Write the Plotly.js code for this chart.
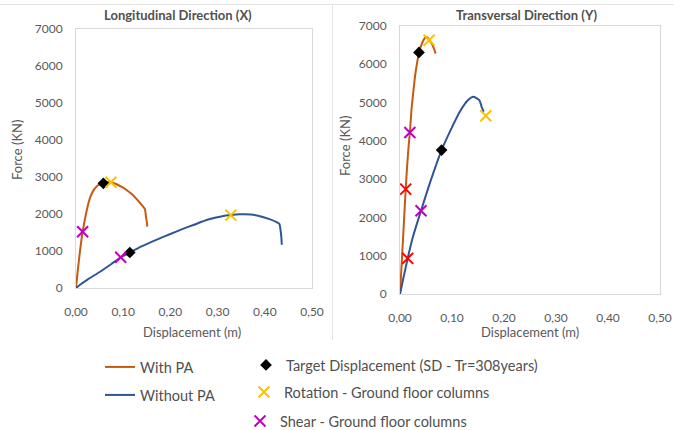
<!DOCTYPE html>
<html>
<head>
<meta charset="utf-8">
<script src="https://cdn.plot.ly/plotly-3.0.1.min.js"></script>
<style>html,body{margin:0;padding:0;background:#fff;}#chart{width:674px;height:430px;}</style>
</head>
<body>
<div id="chart"></div>
<script>
// ---------- Data ----------
// Longitudinal Direction (X)
const longWithPA_x = [0, 0.004, 0.008, 0.012, 0.014, 0.018, 0.024, 0.030, 0.038, 0.046, 0.052, 0.058, 0.065, 0.074, 0.085, 0.097, 0.107, 0.118, 0.130, 0.140, 0.146, 0.148, 0.150, 0.151];
const longWithPA_y = [0, 500, 950, 1350, 1520, 1800, 2170, 2450, 2660, 2770, 2810, 2835, 2860, 2860, 2810, 2730, 2650, 2540, 2380, 2230, 2130, 1950, 1780, 1660];
const longWithoutPA_x = [0, 0.010, 0.025, 0.051, 0.075, 0.095, 0.114, 0.140, 0.170, 0.200, 0.225, 0.250, 0.280, 0.310, 0.328, 0.347, 0.370, 0.390, 0.410, 0.425, 0.431, 0.433, 0.435, 0.436];
const longWithoutPA_y = [0, 100, 235, 440, 650, 830, 960, 1130, 1300, 1460, 1590, 1710, 1850, 1940, 1970, 1990, 1985, 1940, 1860, 1780, 1730, 1600, 1380, 1170];
const longTarget_x = [0.058, 0.114];
const longTarget_y = [2830, 960];
const longRotation_x = [0.074, 0.328];
const longRotation_y = [2860, 1970];
const longShear_x = [0.014, 0.0947];
const longShear_y = [1520, 830];

// Transversal Direction (Y)
const transWithPA_x = [0, 0.0035, 0.0064, 0.009, 0.011, 0.0135, 0.0165, 0.019, 0.022, 0.0256, 0.029, 0.033, 0.0365, 0.041, 0.045, 0.049, 0.053, 0.056, 0.061, 0.065, 0.0686];
const transWithPA_y = [0, 850, 1585, 2250, 2740, 3300, 3850, 4220, 4800, 5280, 5700, 6050, 6310, 6500, 6630, 6700, 6700, 6640, 6545, 6420, 6280];
const transWithoutPA_x = [0, 0.005, 0.0148, 0.025, 0.0404, 0.060, 0.080, 0.096, 0.115, 0.131, 0.141, 0.1525, 0.157, 0.161];
const transWithoutPA_y = [0, 320, 930, 1500, 2175, 3000, 3760, 4240, 4760, 5065, 5150, 5065, 4890, 4760];
const transTarget_x = [0.0365, 0.080];
const transTarget_y = [6310, 3760];
const transRotation_x = [0.056, 0.165];
const transRotation_y = [6630, 4655];
const transShear_x = [0.019, 0.0404];
const transShear_y = [4220, 2175];
const transOther_x = [0.011, 0.0148];
const transOther_y = [2740, 930];

// Labels
const titleLong = 'Longitudinal Direction (X)';
const titleTrans = 'Transversal Direction (Y)';
const xTitle = 'Displacement (m)';
const yTitle = 'Force (KN)';
const nameWith = 'With PA';
const nameWithout = 'Without PA';
const nameTarget = 'Target Displacement (SD - Tr=308years)';
const nameRotation = 'Rotation - Ground floor columns';
const nameShear = 'Shear - Ground floor columns';

// ---------- Styles ----------
const ORANGE = '#C55A11', BLUE = '#2F5597', BLACK = '#000000', GOLD = '#FFC000', MAGENTA = '#C000C0', RED = '#FF0000';
const FONT = 'Lato, "Open Sans", sans-serif';
const TXT = '#595959';

function lineTrace(x, y, color, name, xa, ya, show, leg) {
  return {x, y, type: 'scatter', mode: 'lines', name, xaxis: xa, yaxis: ya,
    line: {color, width: 2, shape: 'spline', smoothing: 0.6},
    showlegend: show, legend: leg, legendgroup: name, hoverinfo: 'skip'};
}
function markerTrace(x, y, kind, color, name, xa, ya, show, leg) {
  const m = kind === 'diamond'
    ? {symbol: 'diamond', size: 9, color}
    : {symbol: 'x-thin', size: 11, color, line: {color, width: 2}};
  return {x, y, type: 'scatter', mode: 'markers', name, xaxis: xa, yaxis: ya,
    marker: m, showlegend: show, legend: leg, legendgroup: name, hoverinfo: 'skip'};
}

const data = [
  lineTrace(longWithPA_x, longWithPA_y, ORANGE, nameWith, 'x', 'y', true, 'legend'),
  lineTrace(longWithoutPA_x, longWithoutPA_y, BLUE, nameWithout, 'x', 'y', true, 'legend2'),
  lineTrace(transWithPA_x, transWithPA_y, ORANGE, nameWith, 'x2', 'y2', false, 'legend'),
  lineTrace(transWithoutPA_x, transWithoutPA_y, BLUE, nameWithout, 'x2', 'y2', false, 'legend2'),
  markerTrace(longTarget_x, longTarget_y, 'diamond', BLACK, nameTarget, 'x', 'y', true, 'legend3'),
  markerTrace(longRotation_x, longRotation_y, 'x', GOLD, nameRotation, 'x', 'y', true, 'legend4'),
  markerTrace(longShear_x, longShear_y, 'x', MAGENTA, nameShear, 'x', 'y', true, 'legend5'),
  markerTrace(transTarget_x, transTarget_y, 'diamond', BLACK, nameTarget, 'x2', 'y2', false, 'legend3'),
  markerTrace(transRotation_x, transRotation_y, 'x', GOLD, nameRotation, 'x2', 'y2', false, 'legend4'),
  markerTrace(transShear_x, transShear_y, 'x', MAGENTA, nameShear, 'x2', 'y2', false, 'legend5'),
  markerTrace(transOther_x, transOther_y, 'x', RED, 'Other', 'x2', 'y2', false, 'legend5')
];

const W = 674, H = 430;
const px = v => v / W, py = v => 1 - v / H;

function xAxis(domain, anchor) {
  return {domain, anchor, range: [0, 0.5], dtick: 0.1, tick0: 0, tickformat: '.2f',
    showgrid: false, zeroline: false, showline: true, mirror: true, linecolor: '#d9d9d9', linewidth: 1,
    ticks: '', ticklabelstandoff: 13, tickfont: {family: FONT, size: 12, color: TXT}, fixedrange: true};
}
function yAxis(domain, anchor) {
  return {domain, anchor, range: [0, 7000], dtick: 1000, tick0: 0,
    showgrid: false, zeroline: false, showline: true, mirror: true, linecolor: '#d9d9d9', linewidth: 1,
    ticks: '', ticklabelstandoff: 10, tickfont: {family: FONT, size: 12, color: TXT}, fixedrange: true};
}
function legendAt(xLeft, yCenter) {
  return {x: px(xLeft), y: py(yCenter), xanchor: 'left', yanchor: 'middle', orientation: 'v',
    bgcolor: 'rgba(0,0,0,0)', borderwidth: 0, itemwidth: 30,
    font: {family: FONT, size: 14.5, color: '#505050'}};
}
function ann(text, x, y, opts) {
  return Object.assign({text, x: px(x), y: py(y), xref: 'paper', yref: 'paper', showarrow: false,
    xanchor: 'center', yanchor: 'middle', font: {family: FONT, size: 13, color: TXT}}, opts || {});
}

const layout = {
  width: W, height: H, autosize: false,
  margin: {l: 0, r: 0, t: 0, b: 0, pad: 0, autoexpand: false},
  paper_bgcolor: '#ffffff', plot_bgcolor: '#ffffff',
  separators: ',.',
  font: {family: FONT, color: TXT},
  xaxis: xAxis([px(76), px(312)], 'y'),
  yaxis: yAxis([py(288), py(29)], 'x'),
  xaxis2: xAxis([px(400), px(660)], 'y2'),
  yaxis2: yAxis([py(294), py(26)], 'x2'),
  legend: legendAt(100, 367),
  legend2: legendAt(100, 395),
  legend3: legendAt(246, 365),
  legend4: legendAt(244, 392),
  legend5: legendAt(240, 421),
  annotations: [
    ann(titleLong, 178, 15, {font: {family: FONT, size: 13, color: '#505050', weight: 'bold'}}),
    ann(titleTrans, 526, 15, {font: {family: FONT, size: 13, color: '#505050', weight: 'bold'}}),
    ann(xTitle, 192, 332),
    ann(xTitle, 530, 332),
    ann(yTitle, 17, 150, {textangle: -90}),
    ann(yTitle, 345, 146, {textangle: -90})
  ],
  shapes: [
    {type: 'line', xref: 'paper', yref: 'paper', x0: 0, x1: 1, y0: py(4.5), y1: py(4.5), line: {color: '#e3e3e3', width: 1}},
    {type: 'line', xref: 'paper', yref: 'paper', x0: px(332.5), x1: px(332.5), y0: py(4.5), y1: py(340), line: {color: '#e3e3e3', width: 1}}
  ],
  showlegend: true
};

Plotly.newPlot('chart', data, layout, {displayModeBar: false, staticPlot: true});
</script>
</body>
</html>
